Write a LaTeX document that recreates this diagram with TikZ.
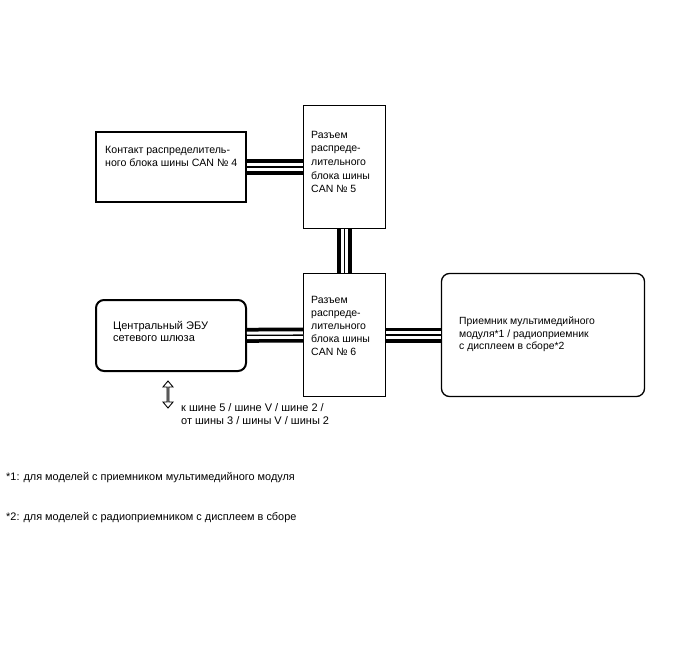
\documentclass[tikz,border=0pt]{standalone}
\usepackage{fontspec}
\setmainfont{Liberation Sans}
\usetikzlibrary{shapes.arrows}
\begin{document}
\begin{tikzpicture}[x=1pt,y=-1pt,
	boxthick/.style={draw,line width=2pt,inner sep=0pt},
	boxthin/.style={draw,line width=1pt,inner sep=0pt},
	boxlabel/.style={anchor=base west,inner sep=0pt,align=left,font=\fontsize{10.5}{13.4}\selectfont},
	notelabel/.style={anchor=base west,inner sep=0pt,align=left,font=\fontsize{10.9}{12.8}\selectfont},
	canbus/.style={line width=15pt,draw=black,postaction={draw=white,line width=7.5pt},postaction={draw=black,line width=1.3pt}}]
		\useasboundingbox (0,0) rectangle (688,658);
		% blocks
		\node[boxthick,minimum width=150pt,minimum height=70pt] (jc4) at (171,167) {};
		\node[boxthin,minimum width=82pt,minimum height=123pt] (jc5) at (344.5,167) {};
		\node[boxthin,minimum width=82pt,minimum height=123pt] (jc6) at (344.5,335) {};
		\node[boxthick,rounded corners=8pt,minimum width=150pt,minimum height=71pt] (gw) at (171,335.5) {};
		\node[draw,line width=1.3pt,inner sep=0pt,rounded corners=8pt,minimum width=203pt,minimum height=123pt] (radio) at (543,335) {};
		% labels (anchored at the last line)
		\node[boxlabel,font=\fontsize{10.6}{13}\selectfont] (jc4txt) at (105,166.5) {Контакт распределитель-\\ного блока шины CAN № 4};
		\node[boxlabel,font=\fontsize{10.5}{13.6}\selectfont] (jc5txt) at (311,192.7) {Разъем\\распреде-\\лительного\\блока шины\\CAN № 5};
		\node[boxlabel,font=\fontsize{10.5}{13.1}\selectfont] (jc6txt) at (311,355.7) {Разъем\\распреде-\\лительного\\блока шины\\CAN № 6};
		\node[boxlabel,font=\fontsize{11}{12}\selectfont] (gwtxt) at (113,341.7) {Центральный ЭБУ\\сетевого шлюза};
		\node[boxlabel,font=\fontsize{10.4}{12.5}\selectfont] (radiotxt) at (459,349.7) {Приемник мультимедийного\\модуля*1 / радиоприемник\\с дисплеем в сборе*2};
		% bus lines
		\draw[canbus] (jc4) -- (jc5);
		\draw[canbus] (jc5) -- (jc6);
		\draw[canbus] (gw) -- (jc6);
		\draw[canbus] (jc6) -- (radio);
		% other buses
		\node[draw,line width=0.9pt,double arrow,double arrow head extend=2.3pt,double arrow tip angle=80,inner sep=0pt,minimum width=10pt,minimum height=27pt,rotate=90] (busarrow) at (168,394.5) {};
		\node[notelabel,font=\fontsize{11}{12.8}\selectfont] (bustxt) at (181,424.3) {к шине 5 / шине V / шине 2 /\\от шины 3 / шины V / шины 2};
		% notes
		\node[notelabel] (note1) at (6,480.5) {*1: для моделей с приемником мультимедийного модуля};
		\node[notelabel] (note2) at (6,520.5) {*2: для моделей с радиоприемником с дисплеем в сборе};
\end{tikzpicture}
\end{document}
